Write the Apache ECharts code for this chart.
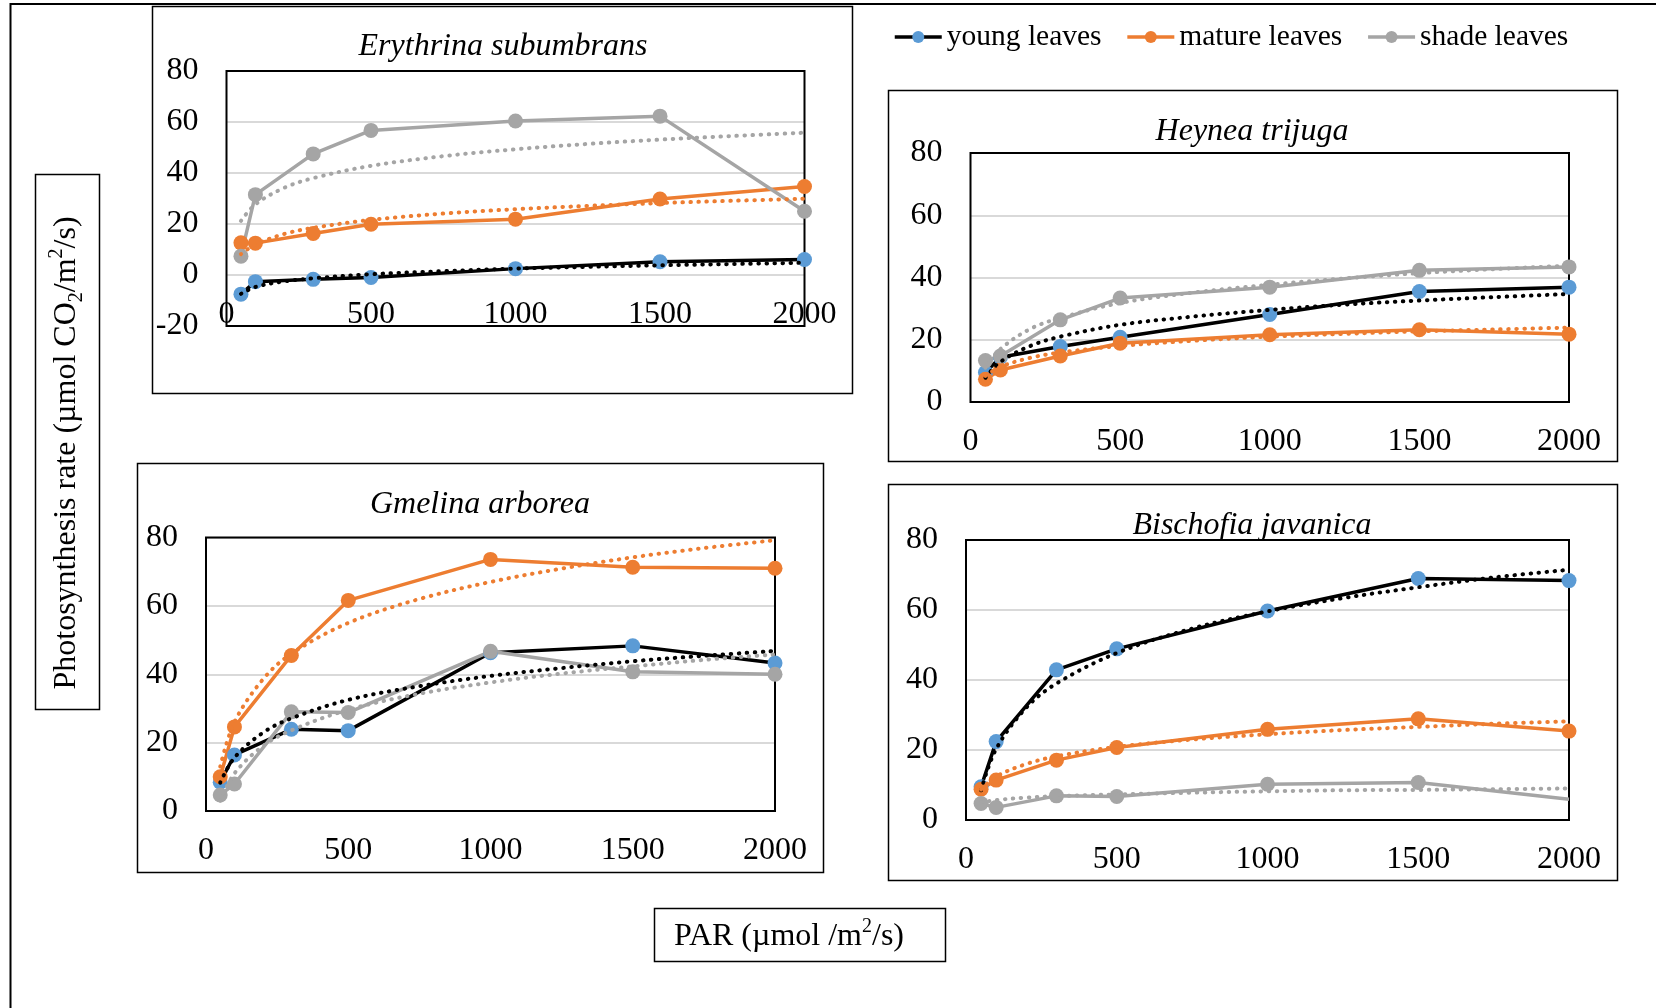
<!DOCTYPE html>
<html>
<head>
<meta charset="utf-8">
<title>Photosynthesis light response of four tree species</title>
<script src="https://cdn.jsdelivr.net/npm/echarts@6/dist/echarts.min.js"></script>
<style>
  html, body { margin: 0; padding: 0; background: #fff; }
  #chart { width: 1656px; height: 1008px; }
</style>
</head>
<body>
<div id="chart"></div>
<script>
// PAR levels at which photosynthesis was measured (µmol/m²/s)
const PAR = [50, 100, 300, 500, 1000, 1500, 2000];
// PAR positions at which the logarithmic trend curves are traced
const TREND_PAR = [50, 100, 200, 300, 500, 750, 1000, 1250, 1500, 1750, 2000];

const SPECIES = ['Erythrina subumbrans', 'Heynea trijuga', 'Gmelina arborea', 'Bischofia javanica'];
const LEAF_TYPES = ['young leaves', 'mature leaves', 'shade leaves'];

// Axis ranges
const X_MIN = 0, X_MAX = 2000, X_STEP = 500;
const Y_MIN = [-20, 0, 0, 0];
const Y_MAX = 80, Y_STEP = 20;

// Erythrina subumbrans
const erythrinaYoung  = [-7.5, -2.6, -1.7, -1.0, 2.5, 5.2, 6.1];
const erythrinaMature = [12.6, 12.5, 16.3, 19.9, 21.9, 29.8, 34.7];
const erythrinaShade  = [7.4, 31.5, 47.5, 56.7, 60.4, 62.3, 25.0];
const erythrinaYoungTrend  = [-7.4, -4.7, -2.5, -1.3, 0.3, 1.5, 2.5, 3.2, 3.8, 4.3, 4.8];
const erythrinaMatureTrend = [8.2, 11.9, 16.1, 18.5, 21.6, 24.1, 25.8, 27.1, 28.2, 29.1, 29.9];
const erythrinaShadeTrend  = [21.2, 27.7, 34.2, 38.0, 42.8, 46.6, 49.3, 51.4, 53.1, 54.5, 55.8];

// Heynea trijuga
const heyneaYoung  = [9.5, 14.4, 17.8, 20.8, 28.1, 35.5, 36.9];
const heyneaMature = [7.3, 10.3, 14.8, 18.9, 21.6, 23.2, 21.8];
const heyneaShade  = [13.3, 14.8, 26.4, 33.4, 36.9, 42.3, 43.4];
const heyneaYoungTrend  = [7.8, 12.9, 18.0, 21.0, 24.8, 27.5, 29.6, 31.3, 32.6, 33.7, 34.7];
const heyneaMatureTrend = [8.4, 11.3, 14.2, 15.9, 18.0, 19.7, 21.0, 21.9, 22.7, 23.3, 23.9];
const heyneaShadeTrend  = [11.0, 17.0, 23.5, 27.0, 31.8, 35.2, 37.7, 39.7, 41.4, 42.7, 43.8];

// Gmelina arborea
const gmelinaYoung  = [8.4, 16.4, 23.9, 23.5, 46.3, 48.3, 43.3];
const gmelinaMature = [10.0, 24.6, 45.5, 61.6, 73.6, 71.3, 71.0];
const gmelinaShade  = [4.7, 7.9, 29.0, 28.8, 46.7, 40.7, 40.0];
const gmelinaYoungTrend  = [8.3, 15.6, 22.9, 27.1, 32.5, 36.5, 39.5, 41.8, 43.8, 45.4, 46.8];
const gmelinaMatureTrend = [13.0, 26.0, 38.5, 46.0, 55.0, 62.0, 67.0, 70.9, 74.2, 76.9, 79.2];
const gmelinaShadeTrend  = [3.0, 11.0, 19.0, 23.6, 29.6, 34.3, 37.6, 40.2, 42.3, 44.2, 45.8];

// Bischofia javanica
const bischofiaYoung  = [9.5, 22.4, 42.9, 48.9, 59.7, 69.0, 68.4];
const bischofiaMature = [8.8, 11.4, 17.1, 20.7, 25.9, 28.9, 25.4];
const bischofiaShade  = [4.7, 3.6, 6.9, 6.7, 10.2, 10.7, 5.9];
const bischofiaYoungTrend  = [8.5, 20.3, 32.1, 39.0, 47.7, 54.7, 59.6, 63.4, 66.5, 69.3, 71.5];
const bischofiaMatureTrend = [8.7, 12.4, 16.0, 18.2, 20.9, 23.0, 24.5, 25.7, 26.6, 27.5, 28.2];
const bischofiaShadeTrend  = [5.0, 5.7, 6.4, 6.8, 7.3, 7.8, 8.2, 8.5, 8.6, 8.8, 9.0];

const measured = [
  [erythrinaYoung, erythrinaMature, erythrinaShade],
  [heyneaYoung, heyneaMature, heyneaShade],
  [gmelinaYoung, gmelinaMature, gmelinaShade],
  [bischofiaYoung, bischofiaMature, bischofiaShade]
];
const trends = [
  [erythrinaYoungTrend, erythrinaMatureTrend, erythrinaShadeTrend],
  [heyneaYoungTrend, heyneaMatureTrend, heyneaShadeTrend],
  [gmelinaYoungTrend, gmelinaMatureTrend, gmelinaShadeTrend],
  [bischofiaYoungTrend, bischofiaMatureTrend, bischofiaShadeTrend]
];

// ---- styling ----
const FONT = '"Liberation Serif", "Times New Roman", serif';
const LINE_COLORS   = ['#000000', '#ed7d31', '#a5a5a5'];
const MARKER_COLORS = ['#5b9bd5', '#ed7d31', '#a5a5a5'];

// plot rectangles of the four panels
const PANELS = [
  { left: 226.5, top: 71,    width: 578,   height: 255,   labelMargin: -27 },
  { left: 970.5, top: 153,   width: 598.5, height: 249,   labelMargin: 24 },
  { left: 206,   top: 537.5, width: 569,   height: 273.5, labelMargin: 24 },
  { left: 966,   top: 540,   width: 603,   height: 280,   labelMargin: 24 }
];
// panel titles (centre points)
const TITLE_POS = [[503, 47], [1252, 132], [480, 505], [1252, 526]];
// frames around each panel
const FRAMES = [
  [152, 6, 700, 387],
  [888, 90, 729, 371],
  [137, 463, 686, 409],
  [888, 484, 729, 396]
];

const grids = [], xAxes = [], yAxes = [], series = [];
const plainNumber = v => String(v);

PANELS.forEach((p, i) => {
  grids.push({
    left: p.left, top: p.top, width: p.width, height: p.height,
    show: true, borderWidth: 0, backgroundColor: '#fff',
    containLabel: false
  });
  xAxes.push({
    gridIndex: i, type: 'value', min: X_MIN, max: X_MAX, interval: X_STEP,
    position: 'bottom',
    axisLine: { show: false, onZero: false },
    axisTick: { show: false },
    splitLine: { show: false },
    axisLabel: { margin: p.labelMargin, color: '#000', fontSize: 32, fontFamily: FONT, formatter: plainNumber }
  });
  yAxes.push({
    gridIndex: i, type: 'value', min: Y_MIN[i], max: Y_MAX, interval: Y_STEP,
    axisLine: { show: false },
    axisTick: { show: false },
    splitLine: { show: true, lineStyle: { color: '#d9d9d9', width: 2 } },
    axisLabel: { margin: 28, color: '#000', fontSize: 32, fontFamily: FONT, formatter: plainNumber }
  });

  LEAF_TYPES.forEach((name, k) => {
    const vals = measured[i][k];
    const data = PAR.map((x, j) => {
      const item = { value: [x, vals[j]] };
      // the last shade-leaf point of Bischofia is drawn without a marker
      if (i === 3 && k === 2 && j === PAR.length - 1) item.symbol = 'none';
      return item;
    });
    series.push({
      name, type: 'line', xAxisIndex: i, yAxisIndex: i,
      data, symbol: 'circle', symbolSize: 15, showSymbol: true,
      lineStyle: { color: LINE_COLORS[k], width: 3.5 },
      itemStyle: { color: MARKER_COLORS[k], borderWidth: 0 },
      z: 2, animation: false, silent: true
    });
  });

  LEAF_TYPES.forEach((name, k) => {
    series.push({
      name: name + ' (log trend)', type: 'line', xAxisIndex: i, yAxisIndex: i,
      data: TREND_PAR.map((x, j) => [x, trends[i][k][j]]),
      smooth: 0.35, symbol: 'none',
      lineStyle: { color: LINE_COLORS[k], width: 4, type: [0.5, 7.5], cap: 'round' },
      z: 3, animation: false, silent: true
    });
  });
});

const graphic = [];
// outer frame of the figure
graphic.push({ type: 'rect', shape: { x: 10.5, y: 4, width: 1700, height: 1100 },
  style: { fill: 'none', stroke: '#000', lineWidth: 2 }, z: 0 });
FRAMES.forEach(f => graphic.push({
  type: 'rect', shape: { x: f[0] + 0.5, y: f[1] + 0.5, width: f[2], height: f[3] },
  style: { fill: 'none', stroke: '#000', lineWidth: 1.5 }, z: 0
}));
// black border around each plot area
PANELS.forEach(p => graphic.push({
  type: 'rect', shape: { x: p.left, y: p.top, width: p.width, height: p.height },
  style: { fill: 'none', stroke: '#000', lineWidth: 2 }, z: 1
}));
SPECIES.forEach((s, i) => graphic.push({
  type: 'text', x: TITLE_POS[i][0], y: TITLE_POS[i][1], z: 100,
  style: { text: s, fill: '#000', fontSize: 32, fontFamily: FONT, fontStyle: 'italic',
           align: 'center', verticalAlign: 'middle' }
}));

// y axis title box and text
graphic.push({ type: 'rect', shape: { x: 35.5, y: 174.5, width: 64, height: 535 },
  style: { fill: '#fff', stroke: '#000', lineWidth: 1.5 }, z: 1 });
graphic.push({
  type: 'text', x: 67, y: 453, rotation: Math.PI / 2, z: 100,
  style: {
    text: 'Photosynthesis rate (µmol CO{sub|2}/m{sup|2}/s)',
    fill: '#000', fontSize: 32, fontFamily: FONT, lineHeight: 40,
    align: 'center', verticalAlign: 'middle',
    rich: {
      sub: { fontSize: 20, fontFamily: FONT, fill: '#000', verticalAlign: 'bottom', lineHeight: 40 },
      sup: { fontSize: 20, fontFamily: FONT, fill: '#000', verticalAlign: 'top', lineHeight: 40 }
    }
  }
});

// x axis title box and text
graphic.push({ type: 'rect', shape: { x: 654.5, y: 908.5, width: 291, height: 53 },
  style: { fill: '#fff', stroke: '#000', lineWidth: 1.5 }, z: 1 });
graphic.push({
  type: 'text', x: 789, y: 937, z: 100,
  style: {
    text: 'PAR (µmol /m{sup|2}/s)',
    fill: '#000', fontSize: 32, fontFamily: FONT, lineHeight: 40,
    align: 'center', verticalAlign: 'middle',
    rich: {
      sup: { fontSize: 20, fontFamily: FONT, fill: '#000', verticalAlign: 'top', lineHeight: 40 }
    }
  }
});

const chart = echarts.init(document.getElementById('chart'), null, { renderer: 'canvas', width: 1656, height: 1008 });
chart.setOption({
  backgroundColor: '#fff',
  animation: false,
  grid: grids,
  xAxis: xAxes,
  yAxis: yAxes,
  legend: {
    data: LEAF_TYPES,
    left: 893, top: 22, padding: 0,
    itemWidth: 47, itemHeight: 15, itemGap: 24,
    lineStyle: { width: 3.5 },
    textStyle: { color: '#000', fontSize: 29.5, fontFamily: FONT },
    selectedMode: false
  },
  graphic: graphic,
  series: series
});
</script>
</body>
</html>
